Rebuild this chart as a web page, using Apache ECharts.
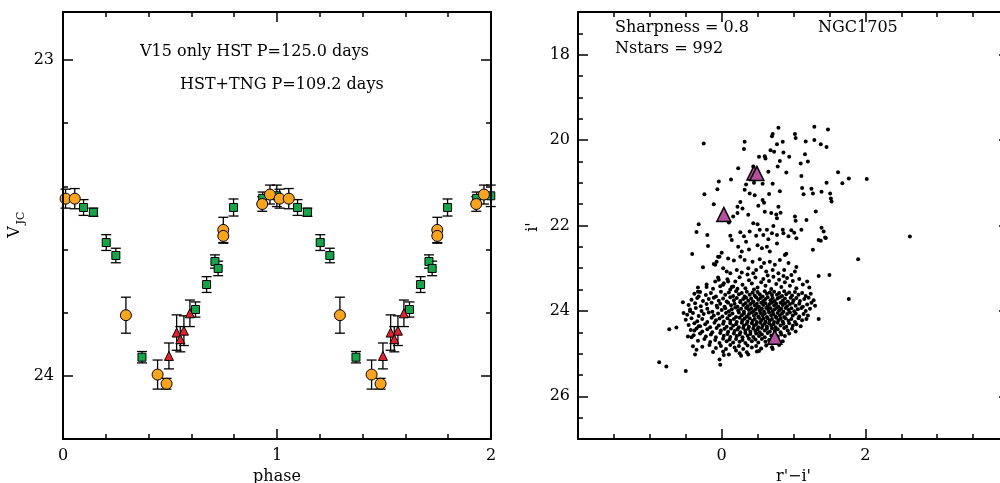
<!DOCTYPE html>
<html>
<head>
<meta charset="utf-8">
<script src="https://cdn.jsdelivr.net/npm/echarts@6/dist/echarts.min.js"></script>
<style>
html,body{margin:0;padding:0;background:#fff;}
#c{width:1000px;height:483px;}
</style>
</head>
<body>
<div id="c"></div>
<script>
// ---------- Light curve (one cycle; plotted twice, phase and phase+1) ----------
const orangePhase = [0.012, 0.055, 0.294, 0.442, 0.484, 0.749, 0.749, 0.931, 0.967];
const orangeMag   = [23.439, 23.439, 23.808, 23.996, 24.025, 23.538, 23.557, 23.456, 23.426];
const orangeErr   = [0.030, 0.032, 0.057, 0.046, 0.017, 0.040, 0.023, 0.023, 0.030];

const greenPhase = [0.096, 0.142, 0.202, 0.247, 0.369, 0.619, 0.671, 0.710, 0.725, 0.797, 0.933, 0.999];
const greenMag   = [23.467, 23.482, 23.578, 23.619, 23.941, 23.790, 23.711, 23.638, 23.660, 23.467, 23.438, 23.430];
const greenErr   = [0.025, 0.013, 0.025, 0.023, 0.018, 0.024, 0.025, 0.021, 0.023, 0.027, 0.020, 0.034];

const redPhase = [0.495, 0.531, 0.548, 0.565, 0.593];
const redMag   = [23.937, 23.863, 23.884, 23.857, 23.802];
const redErr   = [0.041, 0.056, 0.040, 0.047, 0.042];

const lcXTicks = [0, 1, 2];
const lcXMinor = [0.2, 0.4, 0.6, 0.8, 1.2, 1.4, 1.6, 1.8];
const lcYTicks = [23, 24];
const lcYMinor = [23.2, 23.4, 23.6, 23.8];

// ---------- CMD of NGC1705 ----------
const cmdTriangles = [[0.45, 20.77], [0.49, 20.78], [0.03, 21.74], [0.74, 24.62]];

const starsBright = [
[-0.25,20.08],[0.32,20.04],[0.31,20.21],[0.79,19.71],[0.71,19.86],[0.70,19.91],[0.77,20.10],[0.85,20.04],
[0.68,20.24],[0.73,20.27],[0.86,20.29],[0.60,20.38],[0.61,20.43],[0.52,20.39],[0.81,20.49],[0.94,20.39],
[0.78,20.62],[1.02,19.86],[1.03,19.95],[1.17,20.03],[1.29,19.69],[1.29,20.00],[1.48,19.75],[1.38,20.10],
[1.46,20.16],[1.16,20.33],[1.20,20.50],[1.10,20.55],[0.90,20.76],[0.65,20.74],[0.44,20.62],[0.23,20.66],
[0.13,20.92],[-0.04,20.97],[0.34,21.04],[0.45,21.00],[0.57,21.02],[0.71,21.02],[-0.06,21.15],[-0.24,21.27],
[0.32,21.16],[0.39,21.25],[0.46,21.29],[0.57,21.40],[0.59,21.47],[0.51,21.54],[0.66,21.26],[0.81,21.20],
[0.79,21.56],[1.11,20.84],[1.12,21.12],[1.14,21.27],[1.25,21.14],[1.27,21.25],[1.39,21.21],[1.46,21.00],
[1.51,21.25],[1.52,21.37],[1.53,21.44],[1.62,20.75],[1.68,21.01],[1.77,20.90],[2.02,20.91],[-0.11,21.50],
[0.26,21.45],[0.22,21.56],[0.29,21.60],[0.22,21.71],[0.37,21.75],[0.16,21.79],[0.60,21.68],[0.69,21.71],
[0.76,21.74],[0.82,21.70],[0.77,21.83],[1.02,21.79],[1.03,21.89],[1.18,21.87],[1.31,21.67],[-0.32,21.97],
[-0.20,22.22],[-0.19,22.48],[-0.35,22.15],[0.10,21.93],[0.44,21.95],[0.50,21.97],[0.63,22.10],[0.72,22.01],
[0.85,22.10],[0.97,22.11],[1.11,22.10],[1.39,22.05],[1.42,22.14],[1.44,22.28],[1.35,22.34],[1.38,22.36],
[1.45,22.29],[2.62,22.26],[1.27,22.57],[1.90,22.79],[1.77,23.72],[1.35,23.18],[1.50,23.16],[1.35,24.19],
[0.12,22.24],[0.14,22.34],[0.26,22.16],[0.31,22.25],[0.34,22.38],[0.39,22.14],[0.48,22.24],[0.53,22.10],
[0.58,22.22],[0.65,22.32],[0.70,22.18],[0.77,22.22],[0.86,22.18],[0.93,22.25],[1.01,22.17],[1.04,22.30]
];

const starsMid = [
[0.23,22.50],[0.28,22.61],[0.26,22.73],[0.38,22.56],[0.50,22.46],[0.56,22.53],[0.63,22.50],[0.67,22.61],
[0.77,22.42],[0.88,22.69],[0.90,22.66],[0.00,22.64],[-0.03,22.73],[-0.07,22.85],[-0.11,22.90],[0.09,22.77],
[0.17,22.82],[0.32,22.81],[0.43,22.85],[0.53,22.79],[0.59,22.88],[0.67,22.85],[0.74,22.92],[0.81,22.81],
[0.93,22.88],[1.02,23.08],[0.02,23.00],[0.07,23.08],[0.12,23.12],[0.21,23.04],[0.28,23.10],[0.37,23.00],
[0.44,23.12],[0.48,23.04],[0.55,22.97],[0.62,23.08],[0.71,23.04],[0.79,23.12],[0.87,23.04],[0.97,23.16],
[1.04,22.97],[-0.09,23.31],[-0.04,23.27],[0.02,23.39],[0.09,23.31],[0.16,23.43],[-0.41,22.67],[-0.26,22.98],
[-0.05,22.73],[-0.09,22.92],[-0.54,23.80],[-0.32,23.66],[-0.33,23.55],[-0.21,23.44],
[-0.33,23.45],[-0.21,23.38],[-0.12,23.48],[-0.05,23.22],[0.03,23.35],[0.08,23.26],[0.14,23.44],[0.19,23.31],
[0.25,23.21],[0.29,23.39],[0.33,23.47],[0.38,23.28],[0.42,23.36],[0.47,23.22],[0.50,23.45],[0.55,23.33],
[0.58,23.25],[0.61,23.41],[0.66,23.30],[0.69,23.49],[0.72,23.20],[0.76,23.37],[0.80,23.27],[0.83,23.44],
[0.88,23.33],[0.91,23.23],[0.95,23.41],[0.99,23.30],[1.04,23.47],[1.08,23.25],[1.13,23.38],[1.19,23.31],
[1.22,23.45],[0.12,23.50],[0.45,23.50],[0.64,23.17],[0.86,23.18],[0.36,23.15],[-0.02,23.42],[0.22,23.48]
];

const starsFaint = [
[-0.38,23.60],[-0.30,23.56],[-0.22,23.63],[-0.15,23.58],[-0.08,23.66],[-0.01,23.55],[0.05,23.62],[0.10,23.57],
[0.16,23.65],[0.20,23.54],[0.24,23.61],[0.28,23.58],[0.32,23.66],[0.35,23.55],[0.39,23.62],[0.43,23.57],
[0.46,23.64],[0.50,23.56],[0.53,23.61],[0.57,23.66],[0.60,23.54],[0.63,23.60],[0.67,23.57],[0.70,23.63],
[0.73,23.55],[0.77,23.62],[0.80,23.58],[0.84,23.65],[0.87,23.54],[0.90,23.61],[0.94,23.57],[0.98,23.64],
[1.02,23.56],[1.07,23.62],[1.12,23.58],[1.17,23.65],[1.24,23.60],
[-0.42,23.74],[-0.34,23.70],[-0.26,23.77],[-0.18,23.72],[-0.11,23.69],[-0.04,23.76],[0.02,23.71],[0.07,23.78],
[0.12,23.68],[0.17,23.75],[0.21,23.70],[0.26,23.77],[0.30,23.72],[0.34,23.69],[0.37,23.76],[0.41,23.71],
[0.44,23.78],[0.48,23.68],[0.51,23.74],[0.54,23.70],[0.58,23.77],[0.61,23.72],[0.64,23.68],[0.68,23.75],
[0.71,23.70],[0.74,23.77],[0.78,23.71],[0.81,23.68],[0.85,23.76],[0.88,23.71],[0.92,23.78],[0.96,23.69],
[1.00,23.75],[1.04,23.70],[1.09,23.77],[1.15,23.72],[1.21,23.69],[1.28,23.75],
[-0.46,23.86],[-0.37,23.82],[-0.29,23.89],[-0.21,23.84],[-0.14,23.81],[-0.07,23.88],[-0.02,23.83],[0.04,23.90],
[0.09,23.81],[0.13,23.87],[0.18,23.83],[0.22,23.90],[0.26,23.80],[0.30,23.86],[0.33,23.82],[0.36,23.89],
[0.40,23.84],[0.43,23.80],[0.46,23.87],[0.49,23.83],[0.52,23.90],[0.55,23.81],[0.58,23.86],[0.61,23.82],
[0.64,23.89],[0.67,23.84],[0.70,23.80],[0.73,23.87],[0.76,23.83],[0.79,23.90],[0.82,23.81],[0.85,23.86],
[0.88,23.82],[0.91,23.89],[0.95,23.84],[0.99,23.81],[1.03,23.88],[1.08,23.83],[1.13,23.90],[1.19,23.85],
[1.25,23.81],[1.30,23.88],
[-0.44,23.97],[-0.36,23.93],[-0.28,24.00],[-0.20,23.95],[-0.13,24.02],[-0.06,23.92],[0.00,23.98],[0.05,23.94],
[0.10,24.01],[0.14,23.96],[0.19,23.92],[0.23,23.99],[0.27,23.95],[0.31,24.02],[0.34,23.93],[0.38,23.98],
[0.41,23.94],[0.44,24.01],[0.47,23.96],[0.50,23.92],[0.53,23.99],[0.56,23.95],[0.59,24.02],[0.62,23.93],
[0.65,23.98],[0.68,23.94],[0.71,24.01],[0.74,23.96],[0.77,23.92],[0.80,23.99],[0.83,23.95],[0.86,24.02],
[0.89,23.93],[0.93,23.98],[0.97,23.94],[1.01,24.01],[1.06,23.96],[1.11,23.93],[1.17,24.00],[1.23,23.95],
[-0.48,24.09],[-0.40,24.05],[-0.32,24.12],[-0.25,24.07],[-0.18,24.04],[-0.11,24.11],[-0.05,24.06],[0.01,24.13],
[0.06,24.05],[0.11,24.10],[0.15,24.06],[0.20,24.14],[0.24,24.04],[0.28,24.10],[0.31,24.06],[0.35,24.13],
[0.38,24.07],[0.42,24.04],[0.45,24.11],[0.48,24.06],[0.51,24.13],[0.54,24.05],[0.57,24.10],[0.60,24.06],
[0.63,24.14],[0.66,24.04],[0.69,24.10],[0.72,24.07],[0.75,24.13],[0.78,24.05],[0.81,24.11],[0.84,24.06],
[0.87,24.14],[0.91,24.07],[0.95,24.04],[0.99,24.11],[1.03,24.06],[1.08,24.13],[1.14,24.07],[1.20,24.11],
[-0.50,24.21],[-0.42,24.17],[-0.34,24.24],[-0.27,24.19],[-0.20,24.26],[-0.14,24.16],[-0.08,24.22],[-0.03,24.18],
[0.03,24.25],[0.08,24.17],[0.12,24.23],[0.17,24.19],[0.21,24.26],[0.25,24.16],[0.29,24.22],[0.32,24.18],
[0.36,24.25],[0.39,24.17],[0.43,24.23],[0.46,24.19],[0.49,24.26],[0.52,24.16],[0.55,24.22],[0.58,24.18],
[0.61,24.25],[0.64,24.17],[0.67,24.23],[0.70,24.19],[0.73,24.26],[0.76,24.16],[0.79,24.22],[0.82,24.18],
[0.85,24.25],[0.89,24.17],[0.93,24.23],[0.97,24.19],[1.02,24.26],[1.07,24.17],[1.12,24.22],[1.18,24.19],
[-0.46,24.33],[-0.38,24.29],[-0.30,24.36],[-0.23,24.31],[-0.16,24.38],[-0.10,24.28],[-0.04,24.34],[0.02,24.30],
[0.07,24.37],[0.12,24.29],[0.16,24.35],[0.20,24.31],[0.24,24.38],[0.28,24.28],[0.31,24.34],[0.35,24.30],
[0.38,24.37],[0.42,24.29],[0.45,24.35],[0.48,24.31],[0.51,24.38],[0.54,24.28],[0.57,24.34],[0.60,24.30],
[0.63,24.37],[0.66,24.29],[0.69,24.35],[0.72,24.31],[0.75,24.38],[0.78,24.28],[0.82,24.34],[0.86,24.30],
[0.90,24.37],[0.94,24.29],[0.99,24.35],[1.04,24.31],[1.10,24.36],
[-0.43,24.45],[-0.35,24.41],[-0.27,24.48],[-0.20,24.43],[-0.13,24.50],[-0.07,24.40],[-0.01,24.46],[0.04,24.42],
[0.09,24.49],[0.13,24.41],[0.18,24.47],[0.22,24.43],[0.26,24.50],[0.30,24.40],[0.33,24.46],[0.37,24.42],
[0.40,24.49],[0.44,24.41],[0.47,24.47],[0.50,24.43],[0.53,24.50],[0.56,24.40],[0.60,24.46],[0.63,24.42],
[0.67,24.49],[0.70,24.41],[0.74,24.47],[0.78,24.43],[0.82,24.50],[0.87,24.40],[0.92,24.46],[0.98,24.42],
[1.03,24.48],
[-0.39,24.57],[-0.30,24.53],[-0.22,24.60],[-0.15,24.55],[-0.08,24.62],[-0.02,24.52],[0.03,24.58],[0.08,24.54],
[0.12,24.61],[0.17,24.53],[0.21,24.59],[0.25,24.55],[0.29,24.62],[0.33,24.52],[0.36,24.58],[0.40,24.54],
[0.44,24.61],[0.48,24.53],[0.52,24.59],[0.56,24.55],[0.60,24.62],[0.64,24.52],[0.69,24.58],[0.73,24.54],
[0.78,24.60],[0.83,24.55],[0.88,24.59],[0.94,24.53],
[-0.33,24.70],[-0.24,24.66],[-0.16,24.73],[-0.09,24.68],[-0.03,24.75],[0.02,24.65],[0.07,24.71],[0.11,24.67],
[0.16,24.74],[0.20,24.66],[0.25,24.72],[0.29,24.68],[0.33,24.75],[0.38,24.65],[0.42,24.71],[0.47,24.67],
[0.51,24.74],[0.56,24.66],[0.61,24.72],[0.66,24.68],[0.72,24.74],[0.78,24.67],[0.85,24.71],
[-0.27,24.84],[-0.17,24.80],[-0.08,24.87],[-0.01,24.82],[0.06,24.89],[0.12,24.80],[0.18,24.86],[0.24,24.82],
[0.30,24.89],[0.36,24.81],[0.42,24.86],[0.48,24.82],[0.55,24.88],[0.62,24.81],[0.70,24.85],[0.80,24.80],
[0.02,24.95],[0.20,24.93],[0.35,24.97],[0.52,24.94],[-0.12,24.96],[0.27,25.05],[0.10,25.02],
[-0.87,25.20],[-0.77,25.30],[-0.50,25.41],[-0.73,24.43],[-0.63,24.39],[-0.53,24.05],[-0.44,24.01],[-0.40,24.83],
[-0.37,25.02],[-0.35,24.91],[-0.47,24.60],[-0.42,24.62],[-0.38,24.46],[-0.32,24.36],[-0.03,25.14],[-0.02,25.26],
[0.03,25.03],[0.25,24.99],[0.37,25.02],[0.49,24.95],[0.71,24.89]
];

const cmdXTicks = [0, 2];
const cmdXMinor = [-1.5, -1, -0.5, 0.5, 1, 1.5, 2.5, 3, 3.5];
const cmdYTicks = [18, 20, 22, 24, 26];
const cmdYMinor = [17.5, 18.5, 19, 19.5, 20.5, 21, 21.5, 22.5, 23, 23.5, 24.5, 25, 25.5, 26.5];

// ---------- helpers ----------
const FONT = 'DejaVu Serif';
function twoCycles(ph, mag, err) {
  const out = [];
  for (const k of [0, 1]) {
    ph.forEach((p, i) => {
      const x = p + k;
      if (x <= 2.0001) out.push([x, mag[i], err[i]]);
    });
  }
  return out;
}
function axisPair(o) {
  const base = {
    gridIndex: o.grid, type: 'value', position: o.pos, min: o.min, max: o.max, inverse: !!o.inverse,
    splitLine: { show: false }, offset: 0, z: 5
  };
  const major = Object.assign({}, base, {
    axisLine: { show: true, onZero: false, lineStyle: { color: '#000', width: 2 } },
    axisTick: { show: true, inside: true, length: 10, customValues: o.majors, lineStyle: { color: '#000', width: 1.5 } },
    axisLabel: { show: !!o.labels, customValues: o.majors, margin: o.margin || 8, color: '#000',
      fontFamily: FONT, fontSize: 16, formatter: v => String(v) }
  }, o.extra || {});
  const minor = Object.assign({}, base, {
    axisLine: { show: false, onZero: false },
    axisTick: { show: true, inside: true, length: 5, customValues: o.minors, lineStyle: { color: '#000', width: 1.5 } },
    axisLabel: { show: false, customValues: o.minors }
  });
  return [major, minor];
}
const nameStyle = { fontFamily: FONT, fontSize: 16, color: '#000' };

const xAxes = [].concat(
  axisPair({ grid: 0, pos: 'bottom', min: 0, max: 2, majors: lcXTicks, minors: lcXMinor, labels: true, margin: 9,
    extra: { name: 'phase', nameLocation: 'middle', nameGap: 27, nameTextStyle: nameStyle } }),
  axisPair({ grid: 0, pos: 'top', min: 0, max: 2, majors: lcXTicks, minors: lcXMinor }),
  axisPair({ grid: 1, pos: 'bottom', min: -2, max: 4, majors: cmdXTicks, minors: cmdXMinor, labels: true, margin: 9,
    extra: { name: "r'\u2212i'", nameLocation: 'middle', nameGap: 27, nameTextStyle: nameStyle } }),
  axisPair({ grid: 1, pos: 'top', min: -2, max: 4, majors: cmdXTicks, minors: cmdXMinor })
);
const yAxes = [].concat(
  axisPair({ grid: 0, pos: 'left', min: 22.848, max: 24.2, majors: lcYTicks, minors: lcYMinor, labels: true, inverse: true, margin: 9 }),
  axisPair({ grid: 0, pos: 'right', min: 22.848, max: 24.2, majors: lcYTicks, minors: lcYMinor, inverse: true }),
  axisPair({ grid: 1, pos: 'left', min: 17, max: 27, majors: cmdYTicks, minors: cmdYMinor, labels: true, inverse: true, margin: 8 }),
  axisPair({ grid: 1, pos: 'right', min: 17, max: 27, majors: cmdYTicks, minors: cmdYMinor, inverse: true })
);

function errSeries(data) {
  return {
    type: 'custom', xAxisIndex: 0, yAxisIndex: 0, z: 2, silent: true,
    data: data, encode: { x: 0, y: 1 },
    renderItem: function (params, api) {
      const x = api.value(0), y = api.value(1), e = api.value(2);
      const a = api.coord([x, y - e]), b = api.coord([x, y + e]);
      const st = { stroke: '#000', lineWidth: 1.3 };
      return { type: 'group', children: [
        { type: 'line', shape: { x1: a[0], y1: a[1], x2: b[0], y2: b[1] }, style: st },
        { type: 'line', shape: { x1: a[0] - 5, y1: a[1], x2: a[0] + 5, y2: a[1] }, style: st },
        { type: 'line', shape: { x1: b[0] - 5, y1: b[1], x2: b[0] + 5, y2: b[1] }, style: st }
      ] };
    }
  };
}
function markSeries(data, symbol, size, color) {
  return {
    type: 'scatter', xAxisIndex: 0, yAxisIndex: 0, z: 3, symbol: symbol, symbolSize: size,
    data: data.map(d => [d[0], d[1]]),
    itemStyle: { color: color, borderColor: '#000', borderWidth: 1, opacity: 1 }
  };
}

const orangeData = twoCycles(orangePhase, orangeMag, orangeErr);
const greenData = twoCycles(greenPhase, greenMag, greenErr);
const redData = twoCycles(redPhase, redMag, redErr);

const option = {
  animation: false,
  backgroundColor: '#fff',
  grid: [
    { left: 63, top: 12, width: 428, height: 427, containLabel: false, outerBoundsMode: 'none' },
    { left: 578, top: 12, width: 431, height: 427, containLabel: false, outerBoundsMode: 'none' }
  ],
  xAxis: xAxes,
  yAxis: yAxes,
  series: [
    errSeries(greenData), errSeries(redData), errSeries(orangeData),
    markSeries(greenData, 'rect', 8, '#17A348'),
    markSeries(redData, 'triangle', 9, '#E3232B'),
    markSeries(orangeData, 'circle', 11, '#F8A41E'),
    {
      type: 'scatter', xAxisIndex: 4, yAxisIndex: 4, symbol: 'circle', symbolSize: 4, z: 2,
      data: starsBright.concat(starsMid, starsFaint),
      itemStyle: { color: '#000', opacity: 1 }
    },
    {
      type: 'scatter', xAxisIndex: 4, yAxisIndex: 4, symbol: 'triangle', symbolSize: 14, z: 3,
      data: cmdTriangles,
      itemStyle: { color: '#B3519E', borderColor: '#000', borderWidth: 1.5, opacity: 1 }
    }
  ],
  graphic: [
    { type: 'text', left: 140, top: 44, style: { text: 'V15 only HST P=125.0 days', font: '16px "DejaVu Serif"', fill: '#000' } },
    { type: 'text', left: 180, top: 77, style: { text: 'HST+TNG P=109.2 days', font: '16px "DejaVu Serif"', fill: '#000' } },
    { type: 'text', left: 615, top: 20, style: { text: 'Sharpness = 0.8', font: '16px "DejaVu Serif"', fill: '#000' } },
    { type: 'text', left: 818, top: 20, style: { text: 'NGC1705', font: '16px "DejaVu Serif"', fill: '#000' } },
    { type: 'text', left: 615, top: 41, style: { text: 'Nstars = 992', font: '16px "DejaVu Serif"', fill: '#000' } },
    { type: 'text', x: 15, y: 232, rotation: Math.PI / 2,
      style: { text: 'V', font: '16px "DejaVu Serif"', fill: '#000', align: 'center', verticalAlign: 'middle' } },
    { type: 'text', x: 21, y: 218, rotation: Math.PI / 2,
      style: { text: 'JC', font: '11px "DejaVu Serif"', fill: '#000', align: 'center', verticalAlign: 'middle' } },
    { type: 'text', x: 533, y: 227, rotation: Math.PI / 2,
      style: { text: "i'", font: '16px "DejaVu Serif"', fill: '#000', align: 'center', verticalAlign: 'middle' } }
  ]
};

const chart = echarts.init(document.getElementById('c'), null, { renderer: 'canvas' });
chart.setOption(option);
</script>
</body>
</html>
